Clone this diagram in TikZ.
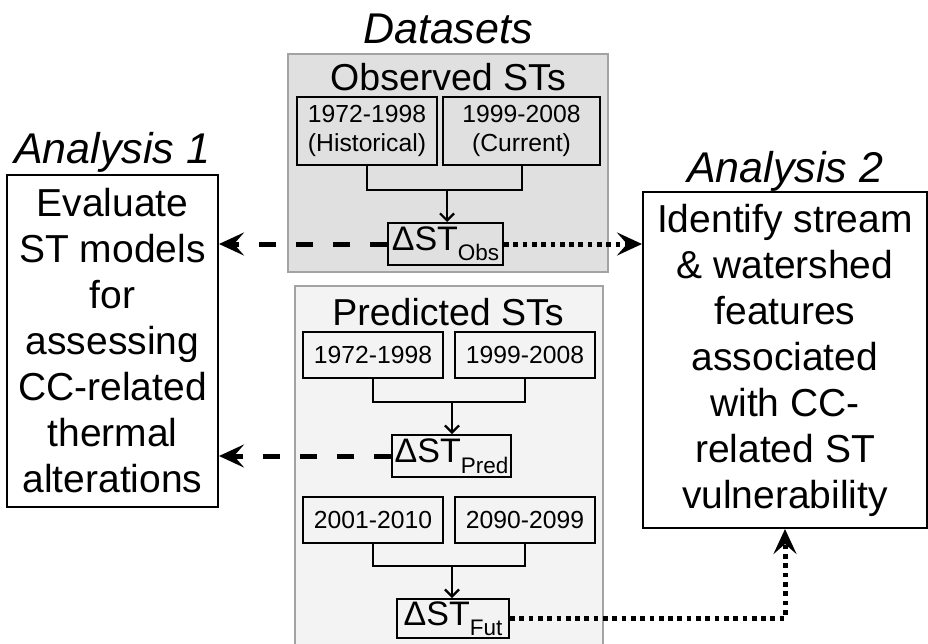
\documentclass[tikz,border=0pt]{standalone}
\usepackage{fontspec}
\setmainfont{Liberation Sans}
\usetikzlibrary{arrows.meta}
\definecolor{obsfill}{HTML}{E0E0E0}
\definecolor{predfill}{HTML}{F3F3F3}
\definecolor{grayedge}{HTML}{A3A3A3}
\newcommand{\dST}[2]{\fontsize{34}{34}\selectfont ΔST\raisebox{-#2}{\fontsize{22.5}{22.5}\selectfont #1}}
\begin{document}
\begin{tikzpicture}[x=1pt,y=-1pt,
  group/.style={draw=grayedge, line width=2.5pt, inner sep=0pt},
  titletext/.style={font=\fontsize{43}{43}\selectfont\itshape, anchor=base, inner sep=0pt},
  heading/.style={font=\fontsize{37.5}{37.5}\selectfont, anchor=base, inner sep=0pt},
  period/.style={draw, line width=2pt, inner sep=0pt, align=center, font=\fontsize{24.7}{29}\selectfont},
  delta/.style={draw, line width=2pt, inner sep=0pt},
  analysis/.style={draw, line width=2pt, inner sep=0pt, align=center, font=\fontsize{39}{46}\selectfont},
  link/.style={line width=2pt, -{Straight Barb[length=7pt,width=14pt,line width=2.2pt]}},
  bracket/.style={line width=2pt, line join=miter},
  dashlink/.style={line width=5pt, dash pattern=on 17pt off 20pt, -{Stealth[length=25pt,width=23pt,inset=10pt]}},
  dotlink/.style={line width=5pt, line join=miter, dash pattern=on 4.7pt off 4.6pt, -{Stealth[length=25pt,width=23pt,inset=10pt]}}]
\useasboundingbox (0,0) rectangle (928,643);

% group boxes
\node[group, fill=obsfill, minimum width=320pt, minimum height=218pt] (obs) at (448,163) {};
\node[group, fill=predfill, minimum width=308pt, minimum height=374pt] (pred) at (449,473) {};

% titles
\node[titletext] (tds) at (448,43) {Datasets};
\node[titletext] (ta1) at (112,163) {Analysis 1};
\node[titletext] (ta2) at (785,182) {Analysis 2};
\node[heading] (hobs) at (448,90) {Observed STs};
\node[heading] (hpred) at (448,325) {Predicted STs};

% observed
\node[period, minimum width=140pt, minimum height=68pt] (obsA) at (367,131) {1972-1998\\(Historical)};
\node[period, minimum width=157pt, minimum height=68pt] (obsB) at (521.5,131) {1999-2008\\(Current)};
\node[delta, minimum width=115pt, minimum height=42pt] (dObs) at (445.5,244) {\dST{Obs}{10pt}};
\coordinate (jObs) at (447,190);

% predicted
\node[period, minimum width=140pt, minimum height=46pt] (predA) at (373,355) {1972-1998};
\node[period, minimum width=140pt, minimum height=46pt] (predB) at (525,355) {1999-2008};
\node[delta, minimum width=119pt, minimum height=42pt] (dPred) at (451.5,456) {\dST{Pred}{11pt}};
\coordinate (jPred) at (452,402);

\node[period, minimum width=140pt, minimum height=46pt] (futA) at (373,520) {2001-2010};
\node[period, minimum width=140pt, minimum height=46pt] (futB) at (525,520) {2090-2099};
\node[delta, minimum width=112pt, minimum height=39pt] (dFut) at (453,618.5) {\dST{Fut}{10pt}};
\coordinate (jFut) at (452,566);

% analyses
\node[analysis, minimum width=211pt, minimum height=332pt] (a1) at (112.5,341)
  {Evaluate\\ST models\\for\\assessing\\CC-related\\thermal\\alterations};
\node[analysis, minimum width=284pt, minimum height=336pt] (a2) at (785,360)
  {Identify stream\\\& watershed\\features\\associated\\with CC-\\related ST\\vulnerability};

% brackets and arrows inside groups
\draw[bracket] (obsA.south) |- (jObs) -| (obsB.south);
\draw[link] (jObs) -- (jObs |- dObs.north);
\draw[bracket] (predA.south) |- (jPred) -| (predB.south);
\draw[link] (jPred) -- (jPred |- dPred.north);
\draw[bracket] (futA.south) |- (jFut) -| (futB.south);
\draw[link] (jFut) -- (jFut |- dFut.north);

% links to analyses
\draw[dashlink] (dObs.west) -- (dObs.west -| a1.east);
\draw[dashlink] (dPred.west) -- (dPred.west -| a1.east);
\draw[dotlink] (dObs.east) -- (dObs.east -| a2.west);
\draw[dotlink] (dFut.east) -| (a2.south);
\end{tikzpicture}
\end{document}
